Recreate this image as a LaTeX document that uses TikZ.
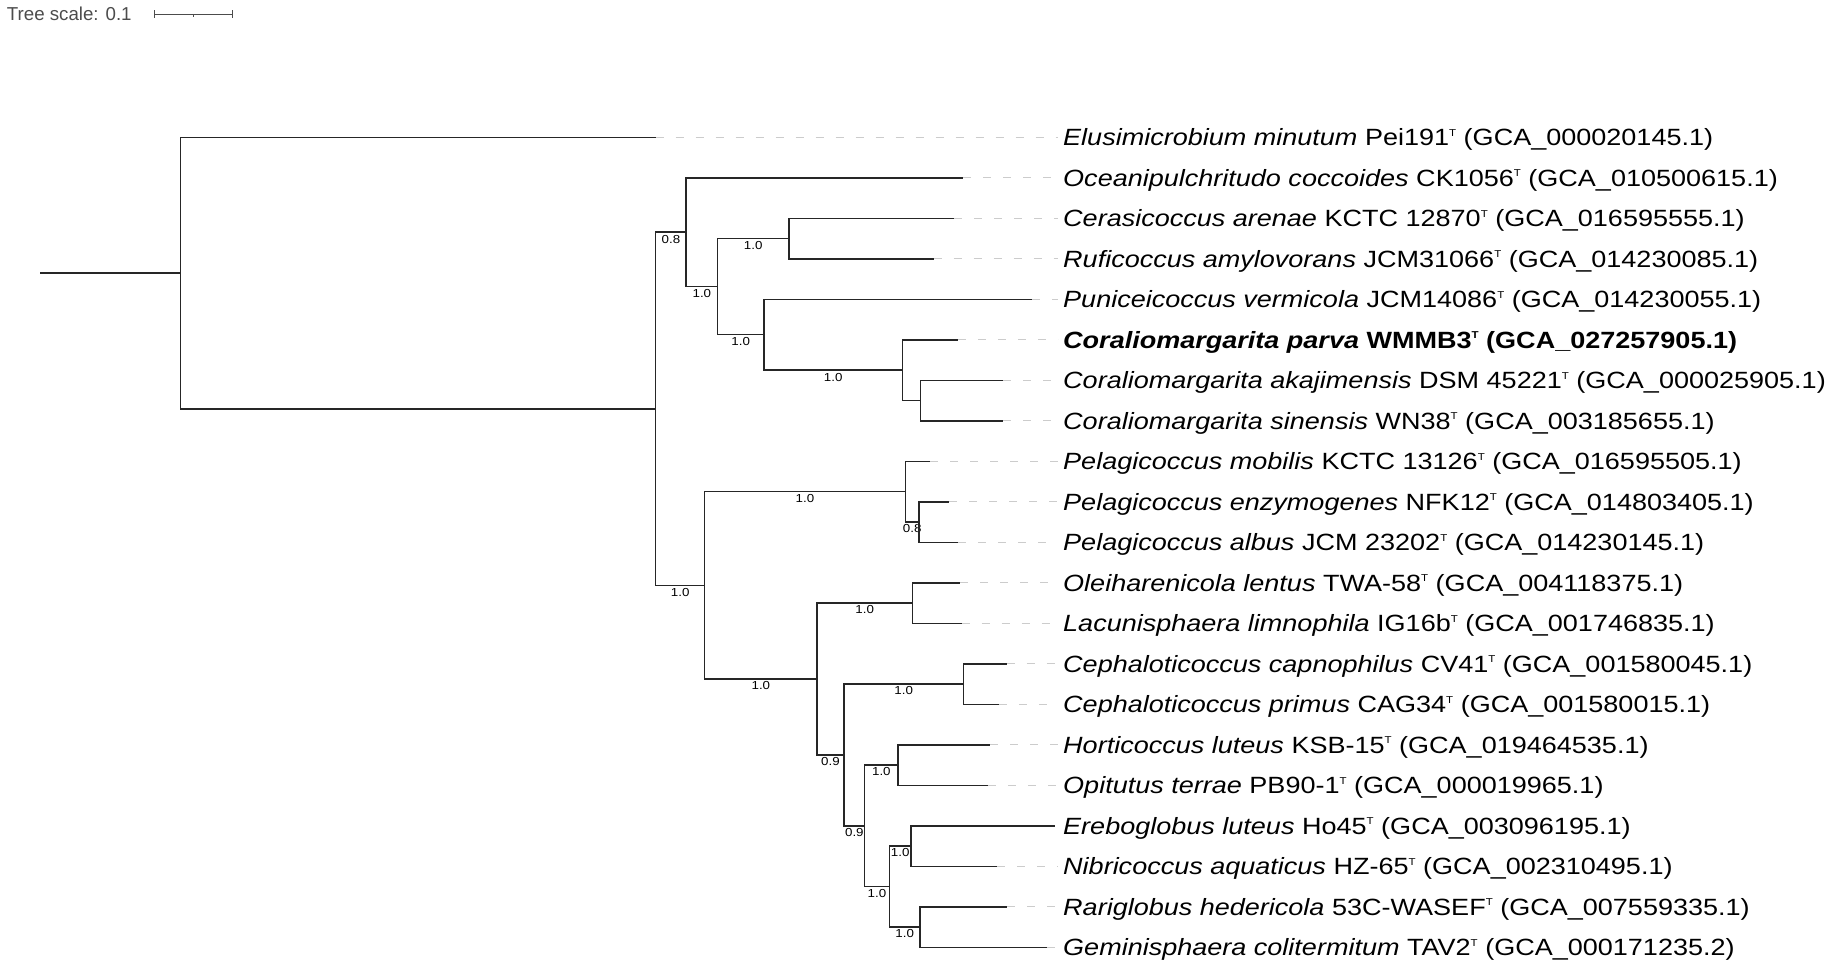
\documentclass[tikz,border=0pt]{standalone}
\usepackage{fontspec}
\setmainfont{Liberation Sans}[FakeStretch=1.15]
\newfontfamily\plainsans{Liberation Sans}
\newcommand{\typeT}{\raisebox{9.6pt}{\fontsize{10}{10}\selectfont T}}

\begin{document}
\begin{tikzpicture}[x=1pt, y=-40.5pt,
  branch/.style={draw=black!85, line width=1.5pt},
  guide/.style={draw=black!20, line width=1.2pt, dash pattern=on 8pt off 12pt},
  taxon/.style={anchor=base west, inner sep=0pt, yshift=-8.4pt, font=\fontsize{23.5}{28}\selectfont},
  support/.style={anchor=north, inner sep=2pt, font=\fontsize{11.6}{13}\selectfont}]
  \useasboundingbox (0,-3.3901) rectangle (1831,20.511);

  % tree scale
  \node[anchor=west, inner sep=0pt, text=black!70, font=\plainsans\fontsize{18.7}{22}\selectfont] (scale) at (6.7,-3.06) {Tree scale: 0.1};
  \coordinate (barL) at (154,-3.044);
  \coordinate (barM) at (193.3,-3.044);
  \coordinate (barR) at (232.3,-3.044);
  \draw[black!70, line width=1pt] (barL) -- (barR);
  \draw[black!70, line width=1pt] ([yshift=4pt]barL) -- ([yshift=-4pt]barL);
  \draw[black!70, line width=1pt] ([yshift=4pt]barR) -- ([yshift=-4pt]barR);
  \draw[black!70, line width=1pt] (barM) -- ([yshift=-3pt]barM);

  % inner nodes
  \coordinate (stub) at (40.2,3.35);
  \coordinate (root) at (180.5,3.35);
  \coordinate (nA) at (655.6,6.703);
  \coordinate (nB) at (686.2,2.34375);
  \coordinate (nC) at (717.5,3.6875);
  \coordinate (nD) at (789,2.5);
  \coordinate (nE) at (764,4.875);
  \coordinate (nF) at (902.4,5.75);
  \coordinate (nG) at (920.3,6.5);
  \coordinate (nH) at (704.7,11.0625);
  \coordinate (nI) at (905.3,8.75);
  \coordinate (nJ) at (919,9.5);
  \coordinate (nK) at (817,13.375);
  \coordinate (nL) at (912.3,11.5);
  \coordinate (nM) at (844,15.25);
  \coordinate (nN) at (963.3,13.5);
  \coordinate (nO) at (864.7,17);
  \coordinate (nP) at (898,15.5);
  \coordinate (nQ) at (889.3,18.5);
  \coordinate (nR) at (911,17.5);
  \coordinate (nS) at (920,19.5);

  % tips
  \coordinate (tElusi) at (655.6,0);
  \coordinate (tOcean) at (963,1);
  \coordinate (tCeras) at (954,2);
  \coordinate (tRufic) at (933.7,3);
  \coordinate (tPunic) at (1032,4);
  \coordinate (tParva) at (958,5);
  \coordinate (tAkaji) at (1003,6);
  \coordinate (tSinen) at (1003,7);
  \coordinate (tMobil) at (930,8);
  \coordinate (tEnzym) at (949,9);
  \coordinate (tAlbus) at (958.3,10);
  \coordinate (tOleih) at (960,11);
  \coordinate (tLacun) at (961.7,12);
  \coordinate (tCapno) at (1006.7,13);
  \coordinate (tPrimu) at (999,14);
  \coordinate (tHorti) at (990,15);
  \coordinate (tOpitu) at (988.3,16);
  \coordinate (tErebo) at (1055,17);
  \coordinate (tNibri) at (997.3,18);
  \coordinate (tRarig) at (1007.3,19);
  \coordinate (tGemin) at (1046.7,20);

  % taxa
  \node[taxon] (elusi) at (1063,0) {\textit{Elusimicrobium minutum} Pei191\typeT{} (GCA\_000020145.1)};
  \node[taxon] (ocean) at (1063,1) {\textit{Oceanipulchritudo coccoides} CK1056\typeT{} (GCA\_010500615.1)};
  \node[taxon] (ceras) at (1063,2) {\textit{Cerasicoccus arenae} KCTC 12870\typeT{} (GCA\_016595555.1)};
  \node[taxon] (rufic) at (1063,3) {\textit{Ruficoccus amylovorans} JCM31066\typeT{} (GCA\_014230085.1)};
  \node[taxon] (punic) at (1063,4) {\textit{Puniceicoccus vermicola} JCM14086\typeT{} (GCA\_014230055.1)};
  \node[taxon, font=\fontsize{23.5}{28}\selectfont\bfseries] (parva) at (1063,5) {\textit{Coraliomargarita parva} WMMB3\typeT{} (GCA\_027257905.1)};
  \node[taxon] (akaji) at (1063,6) {\textit{Coraliomargarita akajimensis} DSM 45221\typeT{} (GCA\_000025905.1)};
  \node[taxon] (sinen) at (1063,7) {\textit{Coraliomargarita sinensis} WN38\typeT{} (GCA\_003185655.1)};
  \node[taxon] (mobil) at (1063,8) {\textit{Pelagicoccus mobilis} KCTC 13126\typeT{} (GCA\_016595505.1)};
  \node[taxon] (enzym) at (1063,9) {\textit{Pelagicoccus enzymogenes} NFK12\typeT{} (GCA\_014803405.1)};
  \node[taxon] (albus) at (1063,10) {\textit{Pelagicoccus albus} JCM 23202\typeT{} (GCA\_014230145.1)};
  \node[taxon] (oleih) at (1063,11) {\textit{Oleiharenicola lentus} TWA-58\typeT{} (GCA\_004118375.1)};
  \node[taxon] (lacun) at (1063,12) {\textit{Lacunisphaera limnophila} IG16b\typeT{} (GCA\_001746835.1)};
  \node[taxon] (capno) at (1063,13) {\textit{Cephaloticoccus capnophilus} CV41\typeT{} (GCA\_001580045.1)};
  \node[taxon] (primu) at (1063,14) {\textit{Cephaloticoccus primus} CAG34\typeT{} (GCA\_001580015.1)};
  \node[taxon] (horti) at (1063,15) {\textit{Horticoccus luteus} KSB-15\typeT{} (GCA\_019464535.1)};
  \node[taxon] (opitu) at (1063,16) {\textit{Opitutus terrae} PB90-1\typeT{} (GCA\_000019965.1)};
  \node[taxon] (erebo) at (1063,17) {\textit{Ereboglobus luteus} Ho45\typeT{} (GCA\_003096195.1)};
  \node[taxon] (nibri) at (1063,18) {\textit{Nibricoccus aquaticus} HZ-65\typeT{} (GCA\_002310495.1)};
  \node[taxon] (rarig) at (1063,19) {\textit{Rariglobus hedericola} 53C-WASEF\typeT{} (GCA\_007559335.1)};
  \node[taxon] (gemin) at (1063,20) {\textit{Geminisphaera colitermitum} TAV2\typeT{} (GCA\_000171235.2)};

  % dashed guides to the labels
  \draw[guide] (tElusi) -- ([xshift=-5pt]tElusi -| elusi.west);
  \draw[guide] (tOcean) -- ([xshift=-5pt]tOcean -| ocean.west);
  \draw[guide] (tCeras) -- ([xshift=-5pt]tCeras -| ceras.west);
  \draw[guide] (tRufic) -- ([xshift=-5pt]tRufic -| rufic.west);
  \draw[guide] (tPunic) -- ([xshift=-5pt]tPunic -| punic.west);
  \draw[guide] (tParva) -- ([xshift=-5pt]tParva -| parva.west);
  \draw[guide] (tAkaji) -- ([xshift=-5pt]tAkaji -| akaji.west);
  \draw[guide] (tSinen) -- ([xshift=-5pt]tSinen -| sinen.west);
  \draw[guide] (tMobil) -- ([xshift=-5pt]tMobil -| mobil.west);
  \draw[guide] (tEnzym) -- ([xshift=-5pt]tEnzym -| enzym.west);
  \draw[guide] (tAlbus) -- ([xshift=-5pt]tAlbus -| albus.west);
  \draw[guide] (tOleih) -- ([xshift=-5pt]tOleih -| oleih.west);
  \draw[guide] (tLacun) -- ([xshift=-5pt]tLacun -| lacun.west);
  \draw[guide] (tCapno) -- ([xshift=-5pt]tCapno -| capno.west);
  \draw[guide] (tPrimu) -- ([xshift=-5pt]tPrimu -| primu.west);
  \draw[guide] (tHorti) -- ([xshift=-5pt]tHorti -| horti.west);
  \draw[guide] (tOpitu) -- ([xshift=-5pt]tOpitu -| opitu.west);
  \draw[guide] (tNibri) -- ([xshift=-5pt]tNibri -| nibri.west);
  \draw[guide] (tRarig) -- ([xshift=-5pt]tRarig -| rarig.west);
  \draw[guide] (tGemin) -- ([xshift=-5pt]tGemin -| gemin.west);

  % branches with support values
  \draw[branch] (stub) -- (root);
  \draw[branch] (root) |- (tElusi);
  \draw[branch] (root) |- (nA);
  \draw[branch] (nA) |- node[support, pos=0.75] (sB) {0.8} (nB);
  \draw[branch] (nA) |- node[support, pos=0.75] (sH) {1.0} (nH);
  \draw[branch] (nB) |- (tOcean);
  \draw[branch] (nB) |- node[support, pos=0.75] (sC) {1.0} (nC);
  \draw[branch] (nC) |- node[support, pos=0.75] (sD) {1.0} (nD);
  \draw[branch] (nC) |- node[support, pos=0.75] (sE) {1.0} (nE);
  \draw[branch] (nD) |- (tCeras);
  \draw[branch] (nD) |- (tRufic);
  \draw[branch] (nE) |- (tPunic);
  \draw[branch] (nE) |- node[support, pos=0.75] (sF) {1.0} (nF);
  \draw[branch] (nF) |- (tParva);
  \draw[branch] (nF) |- (nG);
  \draw[branch] (nG) |- (tAkaji);
  \draw[branch] (nG) |- (tSinen);
  \draw[branch] (nH) |- node[support, pos=0.75] (sI) {1.0} (nI);
  \draw[branch] (nH) |- node[support, pos=0.75] (sK) {1.0} (nK);
  \draw[branch] (nI) |- (tMobil);
  \draw[branch] (nI) |- node[support, pos=0.75] (sJ) {0.8} (nJ);
  \draw[branch] (nJ) |- (tEnzym);
  \draw[branch] (nJ) |- (tAlbus);
  \draw[branch] (nK) |- node[support, pos=0.75] (sL) {1.0} (nL);
  \draw[branch] (nK) |- node[support, pos=0.75] (sM) {0.9} (nM);
  \draw[branch] (nL) |- (tOleih);
  \draw[branch] (nL) |- (tLacun);
  \draw[branch] (nM) |- node[support, pos=0.75] (sN) {1.0} (nN);
  \draw[branch] (nM) |- node[support, pos=0.75] (sO) {0.9} (nO);
  \draw[branch] (nN) |- (tCapno);
  \draw[branch] (nN) |- (tPrimu);
  \draw[branch] (nO) |- node[support, pos=0.75] (sP) {1.0} (nP);
  \draw[branch] (nO) |- node[support, pos=0.75] (sQ) {1.0} (nQ);
  \draw[branch] (nP) |- (tHorti);
  \draw[branch] (nP) |- (tOpitu);
  \draw[branch] (nQ) |- node[support, pos=0.75] (sR) {1.0} (nR);
  \draw[branch] (nQ) |- node[support, pos=0.75] (sS) {1.0} (nS);
  \draw[branch] (nR) |- (tErebo);
  \draw[branch] (nR) |- (tNibri);
  \draw[branch] (nS) |- (tRarig);
  \draw[branch] (nS) |- (tGemin);
\end{tikzpicture}
\end{document}
